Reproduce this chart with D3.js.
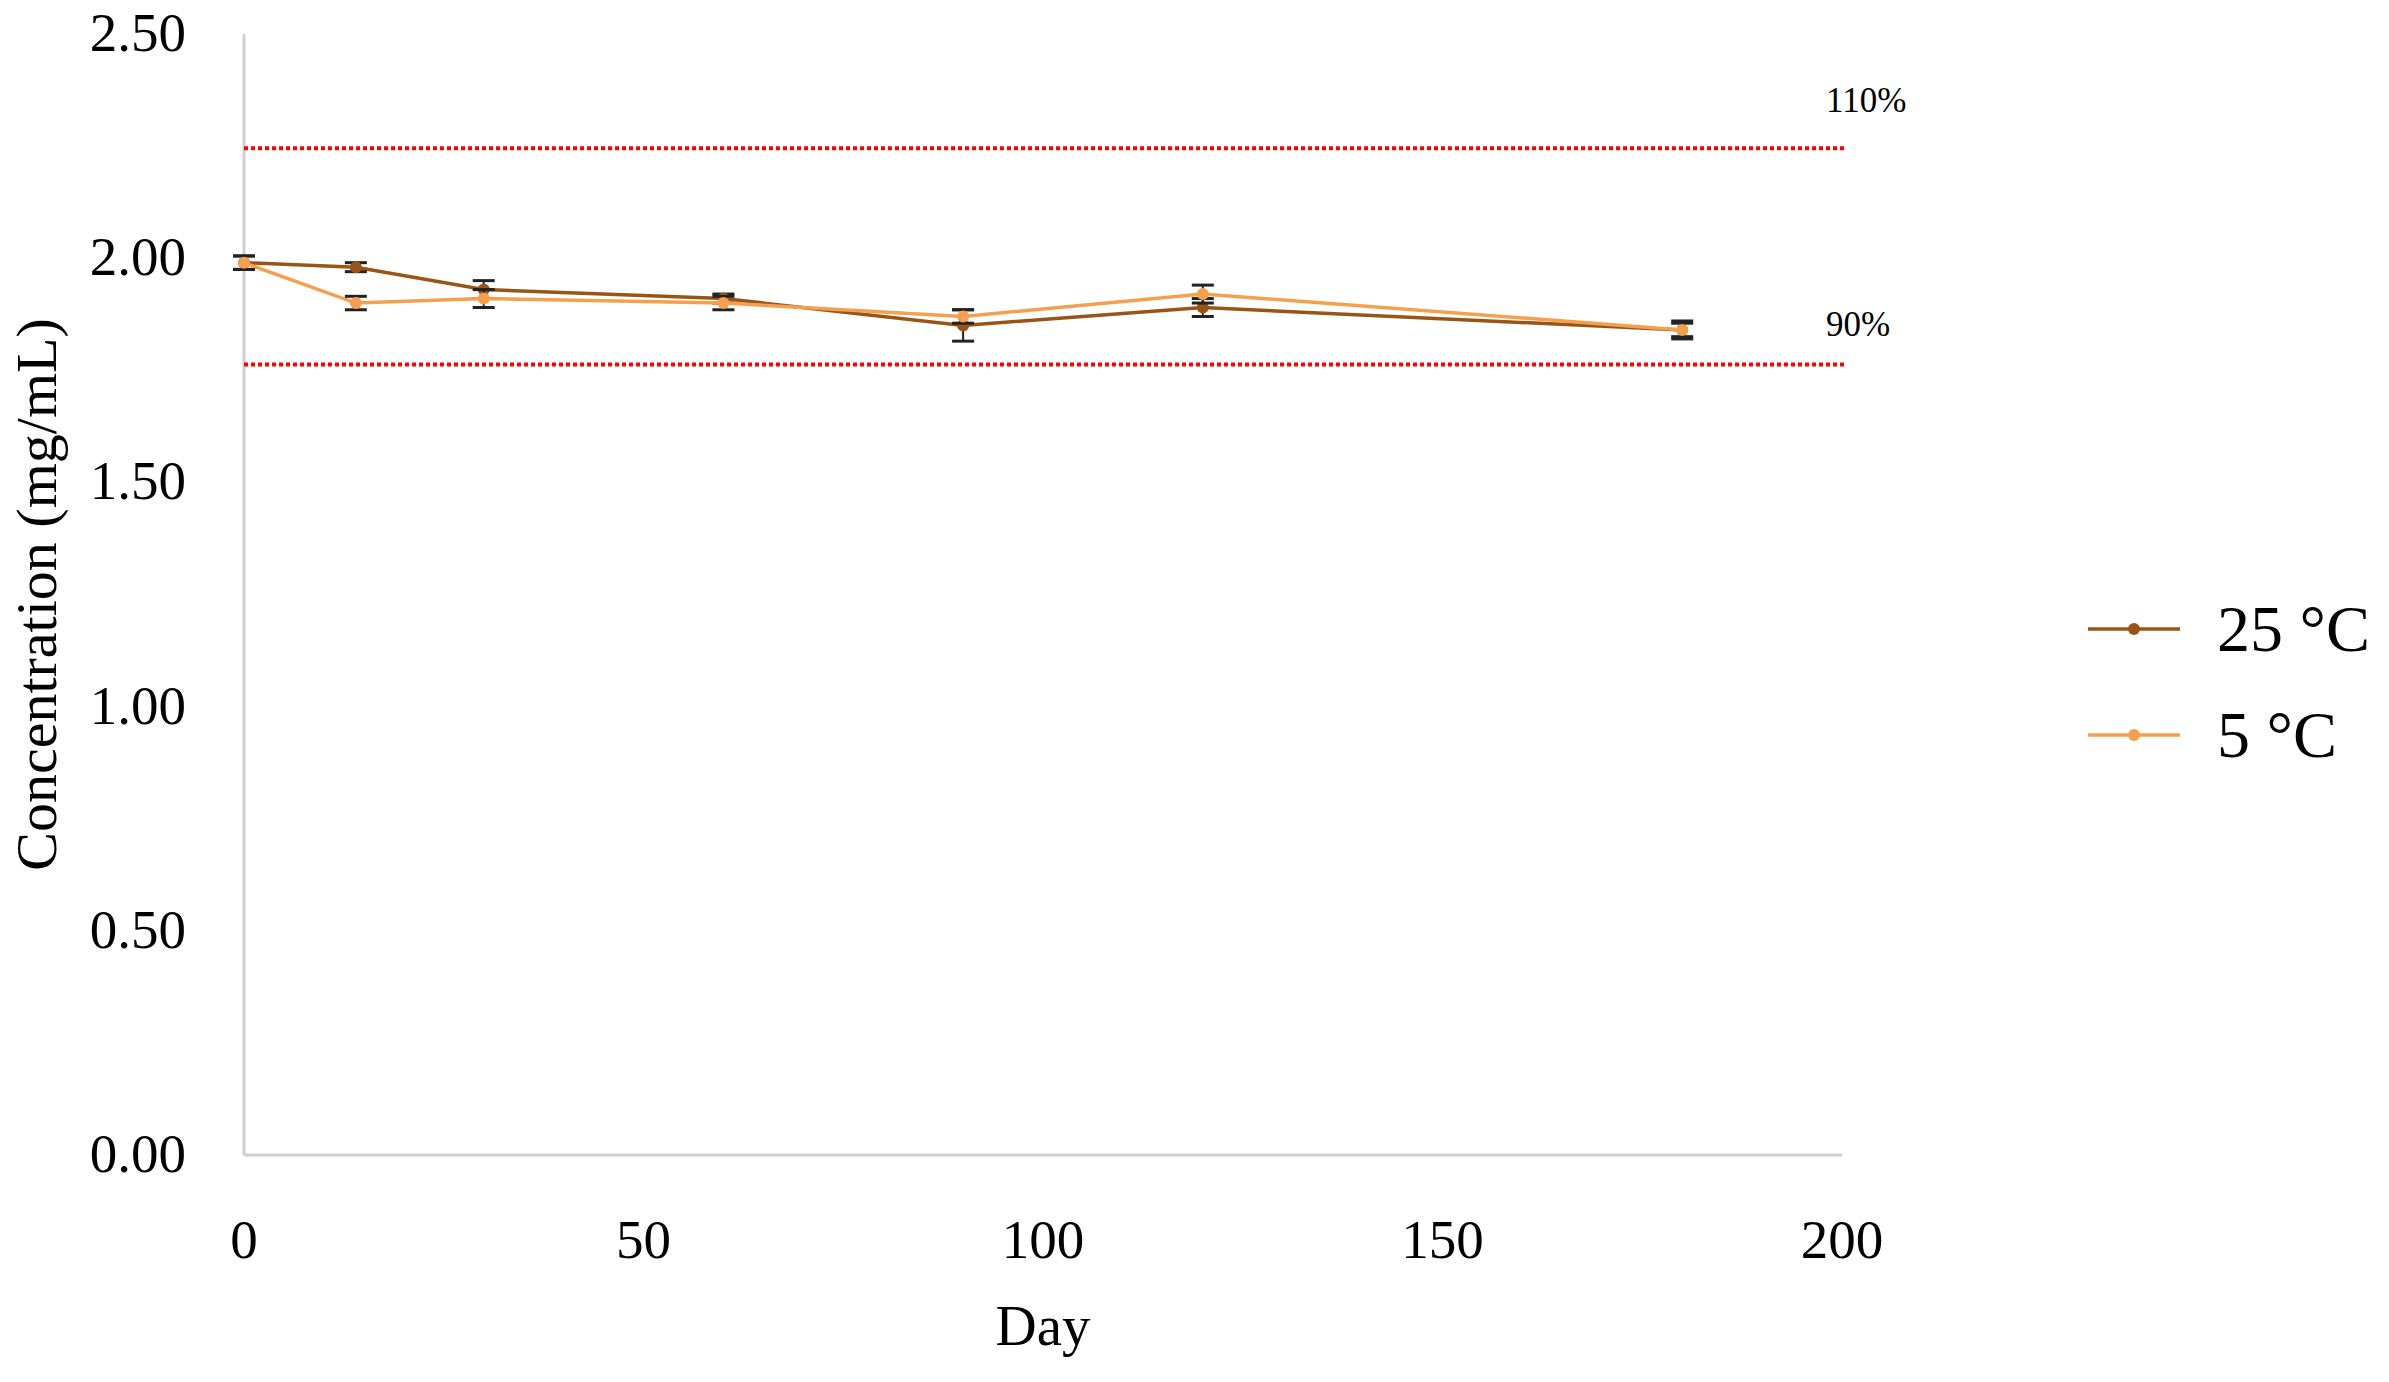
<!DOCTYPE html><html><head><meta charset="utf-8">
<script src="https://cdn.jsdelivr.net/npm/d3@7"></script>
<style>body{margin:0;background:#fff}text{font-family:"Liberation Serif","DejaVu Serif",serif}</style></head><body>
<svg id="c" width="2389" height="1382"></svg>
<script>
const days=[0,14,30,60,90,120,180];
const c25=[1.99,1.98,1.93,1.91,1.85,1.89,1.84];
const e25=[0.015,0.01,0.02,0.01,0.035,0.02,0.02];
const c5=[1.99,1.90,1.91,1.90,1.87,1.92,1.84];
const e5=[0.015,0.015,0.02,0.015,0.015,0.02,0.015];
const limits=[{v:2.245,label:"110%",dy:-36},{v:1.763,label:"90%",dy:-28}];
const yTicks=[0,0.5,1,1.5,2,2.5];
const xTicks=[0,50,100,150,200];
const series=[{name:"25 °C",vals:c25,err:e25,color:"#9A5416"},{name:"5 °C",vals:c5,err:e5,color:"#F5A04F"}];

const svg=d3.select("#c");
const x=d3.scaleLinear().domain([0,200]).range([244,1842]);
const y=d3.scaleLinear().domain([0,2.5]).range([1155,34]);
svg.append("line").attr("x1",x(0)).attr("x2",x(0)).attr("y1",y(2.5)).attr("y2",y(0)).attr("stroke","#d0d0d0").attr("stroke-width",3);
svg.append("line").attr("x1",x(0)).attr("x2",x(200)).attr("y1",y(0)).attr("y2",y(0)).attr("stroke","#d0d0d0").attr("stroke-width",3);
svg.selectAll(".yt").data(yTicks).join("text").attr("x",186).attr("y",d=>y(d)+17).attr("text-anchor","end").attr("font-size",55).text(d=>d.toFixed(2));
svg.selectAll(".xt").data(xTicks).join("text").attr("x",d=>x(d)).attr("y",1258).attr("text-anchor","middle").attr("font-size",55).text(d=>d);
svg.append("text").attr("x",x(100)).attr("y",1345).attr("text-anchor","middle").attr("font-size",57).text("Day");
svg.append("text").attr("transform","translate(56,"+y(1.25)+") rotate(-90)").attr("text-anchor","middle").attr("font-size",58).text("Concentration (mg/mL)");
limits.forEach(l=>{
 svg.append("line").attr("x1",x(0)).attr("x2",x(200)+4).attr("y1",y(l.v)).attr("y2",y(l.v)).attr("stroke","#ff0000").attr("stroke-width",4).attr("stroke-dasharray","4,3");
 svg.append("text").attr("x",1826).attr("y",y(l.v)+l.dy).attr("font-size",35).text(l.label);
});
const line=d3.line().x((d,i)=>x(days[i])).y(d=>y(d));
series.forEach(s=>{
 svg.append("path").attr("d",line(s.vals)).attr("fill","none").attr("stroke",s.color).attr("stroke-width",3.5);
 s.vals.forEach((v,i)=>{
  const g=svg.append("g").attr("stroke","#222").attr("stroke-width",2);
  g.append("line").attr("x1",x(days[i])).attr("x2",x(days[i])).attr("y1",y(v-s.err[i])).attr("y2",y(v+s.err[i]));
  [v-s.err[i],v+s.err[i]].forEach(e=>g.append("line").attr("x1",x(days[i])-11).attr("x2",x(days[i])+11).attr("y1",y(e)).attr("y2",y(e)).attr("stroke-width",3));
  svg.append("circle").attr("cx",x(days[i])).attr("cy",y(v)).attr("r",6).attr("fill",s.color);
 });
});
series.forEach((s,i)=>{
 const ly=629+i*106;
 svg.append("line").attr("x1",2088).attr("x2",2180).attr("y1",ly).attr("y2",ly).attr("stroke",s.color).attr("stroke-width",3.5);
 svg.append("circle").attr("cx",2134).attr("cy",ly).attr("r",6).attr("fill",s.color);
 svg.append("text").attr("x",2217).attr("y",ly+22).attr("font-size",66).text(s.name);
});
</script></body></html>
